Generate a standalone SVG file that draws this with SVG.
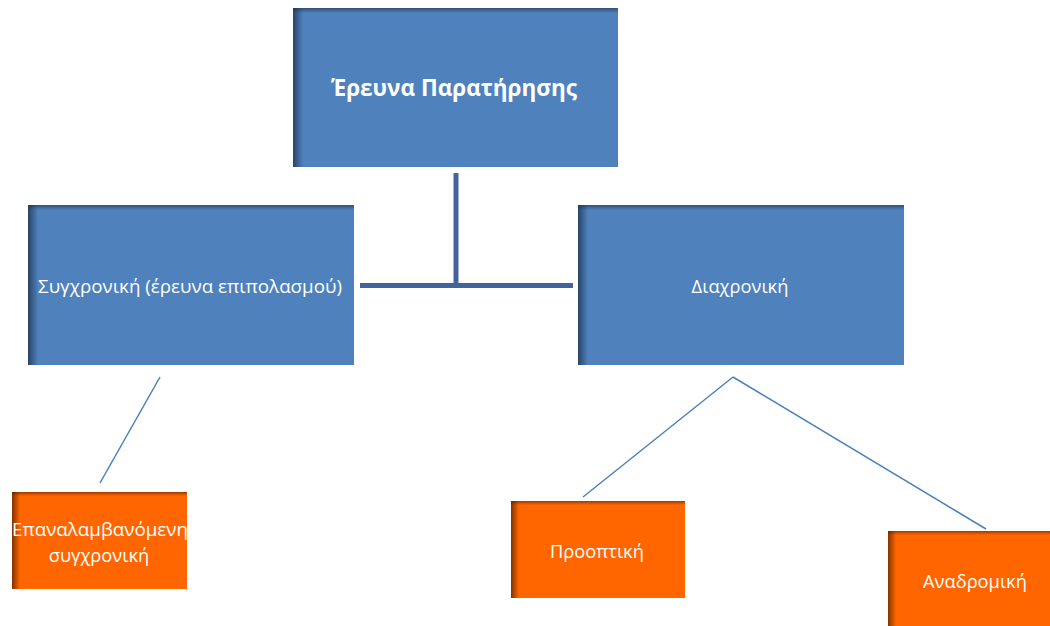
<svg xmlns="http://www.w3.org/2000/svg" width="1050" height="626" viewBox="0 0 1050 626">
  <defs>
    <!-- soft inner shading along the left and top edges of each box -->
    <linearGradient id="shadeL" x1="0" y1="0" x2="1" y2="0">
      <stop offset="0" stop-color="#1c2f4a" stop-opacity="0.75"/>
      <stop offset="1" stop-color="#1c2f4a" stop-opacity="0"/>
    </linearGradient>
    <linearGradient id="shadeT" x1="0" y1="0" x2="0" y2="1">
      <stop offset="0" stop-color="#1c2f4a" stop-opacity="0.6"/>
      <stop offset="1" stop-color="#1c2f4a" stop-opacity="0"/>
    </linearGradient>
    <linearGradient id="shadeLo" x1="0" y1="0" x2="1" y2="0">
      <stop offset="0" stop-color="#5a2000" stop-opacity="0.75"/>
      <stop offset="1" stop-color="#5a2000" stop-opacity="0"/>
    </linearGradient>
    <linearGradient id="shadeTo" x1="0" y1="0" x2="0" y2="1">
      <stop offset="0" stop-color="#5a2000" stop-opacity="0.6"/>
      <stop offset="1" stop-color="#5a2000" stop-opacity="0"/>
    </linearGradient>
  </defs>
  <style>
    .blue { fill: #4f81bd; }
    .orange { fill: #ff6600; }
    .lbl { font-family: "Open Sans", "Noto Sans", sans-serif; fill: #ffffff; text-anchor: middle; dominant-baseline: central; }
    .title { font-size: 22.5px; font-weight: bold; }
    .body { font-size: 18.3px; }
    .trunk { stroke: #41659a; stroke-width: 5; fill: none; }
    .branch { stroke: #4a7ebb; stroke-width: 1.5; fill: none; }
  </style>
  <rect width="1050" height="626" fill="#ffffff"/>

  <g id="connectors">
    <line class="trunk" x1="456" y1="173" x2="456" y2="287"/>
    <line class="trunk" x1="360" y1="285.5" x2="573" y2="285.5"/>
    <line class="branch" x1="160" y1="377" x2="100" y2="483"/>
    <line class="branch" x1="733" y1="377" x2="583" y2="497"/>
    <line class="branch" x1="733" y1="377" x2="986" y2="529"/>
  </g>

  <g id="node-root">
    <rect class="blue" x="293" y="8" width="325" height="159"/>
    <rect x="293" y="8" width="10" height="159" fill="url(#shadeL)"/>
    <rect x="293" y="8" width="325" height="5" fill="url(#shadeT)"/>
    <text class="lbl title" x="454" y="87">Έρευνα Παρατήρησης</text>
  </g>

  <g id="node-synchronic">
    <rect class="blue" x="28" y="205" width="326" height="160"/>
    <rect x="28" y="205" width="10" height="160" fill="url(#shadeL)"/>
    <rect x="28" y="205" width="326" height="5" fill="url(#shadeT)"/>
    <text class="lbl body" x="190" y="285" textLength="304" lengthAdjust="spacingAndGlyphs">Συγχρονική (έρευνα επιπολασμού)</text>
  </g>

  <g id="node-diachronic">
    <rect class="blue" x="578" y="205" width="326" height="160"/>
    <rect x="578" y="205" width="10" height="160" fill="url(#shadeL)"/>
    <rect x="578" y="205" width="326" height="5" fill="url(#shadeT)"/>
    <text class="lbl body" x="740" y="285">Διαχρονική</text>
  </g>

  <g id="node-repeated">
    <rect class="orange" x="12" y="492" width="175" height="97"/>
    <rect x="12" y="492" width="8" height="97" fill="url(#shadeLo)"/>
    <rect x="12" y="492" width="175" height="4" fill="url(#shadeTo)"/>
    <text class="lbl body" x="100" y="528" textLength="176" lengthAdjust="spacingAndGlyphs">Επαναλαμβανόμενη</text>
    <text class="lbl body" x="99" y="554">συγχρονική</text>
  </g>

  <g id="node-prospective">
    <rect class="orange" x="511" y="501" width="174" height="97"/>
    <rect x="511" y="501" width="8" height="97" fill="url(#shadeLo)"/>
    <rect x="511" y="501" width="174" height="4" fill="url(#shadeTo)"/>
    <text class="lbl body" x="597" y="550">Προοπτική</text>
  </g>

  <g id="node-retrospective">
    <rect class="orange" x="888" y="531" width="175" height="100"/>
    <rect x="888" y="531" width="8" height="100" fill="url(#shadeLo)"/>
    <rect x="888" y="531" width="175" height="4" fill="url(#shadeTo)"/>
    <text class="lbl body" x="975" y="580">Αναδρομική</text>
  </g>
</svg>
